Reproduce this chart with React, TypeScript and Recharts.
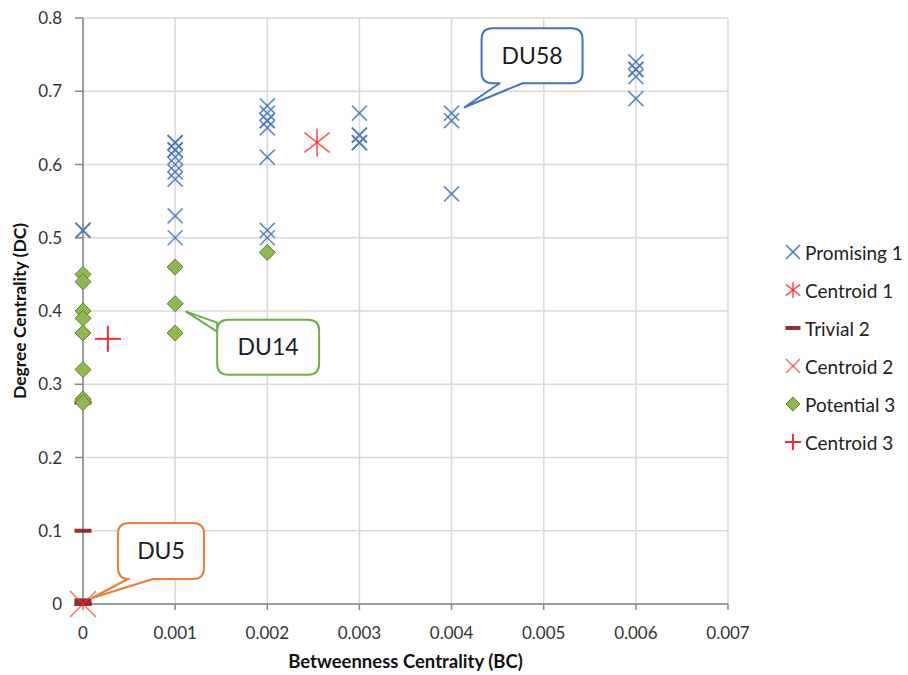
import React from "react";
import {
  ScatterChart,
  Scatter,
  XAxis,
  YAxis,
  CartesianGrid,
  ReferenceDot,
} from "recharts";

const xTicks = [0, 0.001, 0.002, 0.003, 0.004, 0.005, 0.006, 0.007];
const yTicks = [0, 0.1, 0.2, 0.3, 0.4, 0.5, 0.6, 0.7, 0.8];

// Promising 1: one column per BC value
const promisingBC = [0, 0.001, 0.002, 0.003, 0.004, 0.006];
const promisingDC = [
  [0.51, 0.51],
  [0.63, 0.63, 0.62, 0.62, 0.61, 0.6, 0.59, 0.58, 0.53, 0.5],
  [0.68, 0.67, 0.66, 0.66, 0.65, 0.61, 0.51, 0.5],
  [0.67, 0.64, 0.64, 0.63, 0.63],
  [0.67, 0.66, 0.56],
  [0.74, 0.73, 0.73, 0.72, 0.69],
];

const trivialBC = [0];
const trivialDC = [[0.1, 0.275, 0.005, 0, 0]];

const potentialBC = [0, 0.001, 0.002];
const potentialDC = [
  [0.45, 0.44, 0.4, 0.39, 0.37, 0.32, 0.28, 0.275],
  [0.46, 0.41, 0.37],
  [0.48],
];

const centroid1 = [{ x: 0.00254, y: 0.63 }];
const centroid2 = [{ x: 0, y: 0 }];
const centroid3 = [{ x: 0.00027, y: 0.362 }];

const flat = (bc: number[], dc: number[][]) =>
  bc.flatMap((x, i) => dc[i].map((y) => ({ x, y })));

const promising = flat(promisingBC, promisingDC);
const trivial = flat(trivialBC, trivialDC);
const potential = flat(potentialBC, potentialDC);

const FONT = "Lato, 'Open Sans', sans-serif";
const BLUE = "#4a7aba";
const RED = "#ff2a2a";

const XMark = ({ cx, cy, r, color, w, op = 1 }: any) => (
  <g stroke={color} strokeWidth={w} strokeOpacity={op}>
    <line x1={cx - r} y1={cy - r} x2={cx + r} y2={cy + r} />
    <line x1={cx - r} y1={cy + r} x2={cx + r} y2={cy - r} />
  </g>
);

const Star = ({ cx, cy, r }: any) => (
  <g stroke={RED} strokeWidth={1.6} strokeOpacity={0.8}>
    <line x1={cx} y1={cy - r} x2={cx} y2={cy + r} />
    <line x1={cx - r * 0.9} y1={cy - r * 0.7} x2={cx + r * 0.9} y2={cy + r * 0.7} />
    <line x1={cx - r * 0.9} y1={cy + r * 0.7} x2={cx + r * 0.9} y2={cy - r * 0.7} />
  </g>
);

const Plus = ({ cx, cy, r }: any) => (
  <g stroke={RED} strokeWidth={2}>
    <line x1={cx} y1={cy - r} x2={cx} y2={cy + r} />
    <line x1={cx - r} y1={cy} x2={cx + r} y2={cy} />
  </g>
);

const Dash = ({ cx, cy, w = 17 }: any) => (
  <rect x={cx - w / 2} y={cy - 2} width={w} height={4} fill="#8b3333" />
);

const Diamond = ({ cx, cy, r }: any) => (
  <path
    d={`M${cx},${cy - r} L${cx + r},${cy} L${cx},${cy + r} L${cx - r},${cy} Z`}
    fill="#8fb84f"
    stroke="#5f7f2f"
    strokeWidth={1}
  />
);

// rounded box with a pointer; tail on bottom edge or left edge
const Callout = ({ cx, cy, tip, box, tail, side, color, text }: any) => {
  const [bx, by, bw, bh] = [cx + box[0], cy + box[1], box[2], box[3]];
  const r = 11;
  const tx = cx + tip[0];
  const ty = cy + tip[1];
  let d = `M${bx + r},${by} H${bx + bw - r} Q${bx + bw},${by} ${bx + bw},${by + r} V${by + bh - r} Q${bx + bw},${by + bh} ${bx + bw - r},${by + bh}`;
  if (side === "bottom") d += ` L${cx + tail[1]},${by + bh} L${tx},${ty} L${cx + tail[0]},${by + bh}`;
  d += ` H${bx + r} Q${bx},${by + bh} ${bx},${by + bh - r}`;
  if (side === "left") d += ` L${bx},${cy + tail[1]} L${tx},${ty} L${bx},${cy + tail[0]}`;
  d += ` V${by + r} Q${bx},${by} ${bx + r},${by} Z`;
  return (
    <g>
      <path d={d} fill="#fff" stroke={color} strokeWidth={2} strokeLinejoin="round" />
      <text
        x={bx + bw / 2}
        y={by + bh / 2 + 8}
        textAnchor="middle"
        fontSize={23}
        fontFamily={FONT}
        fill="#1b1b2a"
      >
        {text}
      </text>
    </g>
  );
};

const legendItems = [
  { name: "Promising 1", icon: <XMark cx={9} cy={9} r={7} color={BLUE} w={1.5} /> },
  { name: "Centroid 1", icon: <Star cx={9} cy={9} r={8} /> },
  { name: "Trivial 2", icon: <Dash cx={9} cy={9} w={15} /> },
  { name: "Centroid 2", icon: <XMark cx={9} cy={9} r={7} color={RED} w={1.4} op={0.7} /> },
  { name: "Potential 3", icon: <Diamond cx={9} cy={9} r={7} /> },
  { name: "Centroid 3", icon: <Plus cx={9} cy={9} r={8} /> },
];

const tickStyle = { fill: "#333", fontSize: 17, fontFamily: FONT };

export default function App() {
  return (
    <div style={{ position: "absolute", left: 0, top: 0, width: 908, height: 675, background: "#fff", fontFamily: FONT }}>
      <ScatterChart width={908} height={675} margin={{ top: 18, right: 180, bottom: 0, left: 0 }}>
        <CartesianGrid stroke="#d9d9d9" strokeWidth={1.5} />
        <XAxis
          type="number"
          dataKey="x"
          domain={[0, 0.007]}
          ticks={xTicks}
          tickFormatter={(v: number) => String(v)}
          tickSize={6}
          tickMargin={17}
          height={71}
          stroke="#868686"
          strokeWidth={1.5}
          tick={tickStyle}
          label={{
            value: "Betweenness Centrality (BC)",
            position: "insideBottom",
            offset: 7,
            style: { fontWeight: 700, fontSize: 18.5, fill: "#111", fontFamily: FONT },
          }}
        />
        <YAxis
          type="number"
          dataKey="y"
          domain={[0, 0.8]}
          ticks={yTicks}
          tickFormatter={(v: number) => String(v)}
          tickSize={8}
          tickMargin={13}
          width={83}
          stroke="#868686"
          strokeWidth={1.5}
          tick={tickStyle}
          label={{
            value: "Degree Centrality (DC)",
            angle: -90,
            position: "insideLeft",
            offset: 20,
            style: { textAnchor: "middle", fontWeight: 700, fontSize: 17.5, fill: "#111", fontFamily: FONT },
          }}
        />
        <Scatter
          name="Promising 1"
          data={promising}
          isAnimationActive={false}
          shape={(p: any) => <XMark cx={p.cx} cy={p.cy} r={7.5} color={BLUE} w={1.7} op={0.85} />}
        />
        <Scatter
          name="Centroid 1"
          data={centroid1}
          isAnimationActive={false}
          shape={(p: any) => <Star cx={p.cx} cy={p.cy} r={14} />}
        />
        <Scatter
          name="Trivial 2"
          data={trivial}
          isAnimationActive={false}
          shape={(p: any) => <Dash cx={p.cx} cy={p.cy} />}
        />
        <Scatter
          name="Centroid 2"
          data={centroid2}
          isAnimationActive={false}
          shape={(p: any) => <XMark cx={p.cx} cy={p.cy} r={13} color={RED} w={1.5} op={0.7} />}
        />
        <Scatter
          name="Potential 3"
          data={potential}
          isAnimationActive={false}
          shape={(p: any) => <Diamond cx={p.cx} cy={p.cy} r={8} />}
        />
        <Scatter
          name="Centroid 3"
          data={centroid3}
          isAnimationActive={false}
          shape={(p: any) => <Plus cx={p.cx} cy={p.cy} r={13} />}
        />
        <ReferenceDot
          x={0.004}
          y={0.67}
          ifOverflow="visible"
          shape={(p: any) => (
            <Callout cx={p.cx} cy={p.cy} tip={[13, -6]} box={[30, -85, 101, 55]} tail={[48, 71]} side="bottom" color="#4472c4" text="DU58" />
          )}
        />
        <ReferenceDot
          x={0.001}
          y={0.41}
          ifOverflow="visible"
          shape={(p: any) => (
            <Callout cx={p.cx} cy={p.cy} tip={[11, 8]} box={[42, 16, 102, 55]} tail={[19, 28]} side="left" color="#70ad47" text="DU14" />
          )}
        />
        <ReferenceDot
          x={0}
          y={0}
          ifOverflow="visible"
          shape={(p: any) => (
            <Callout cx={p.cx} cy={p.cy} tip={[9, -6]} box={[35, -81, 86, 56]} tail={[45, 70]} side="bottom" color="#ed7d31" text="DU5" />
          )}
        />
      </ScatterChart>
      <div style={{ position: "absolute", left: 784, top: 233 }}>
        {legendItems.map((it) => (
          <div key={it.name} style={{ display: "flex", alignItems: "center", height: 38 }}>
            <svg width={18} height={18} style={{ marginRight: 3 }}>
              {it.icon}
            </svg>
            <span style={{ fontSize: 19, color: "#222", fontFamily: FONT }}>{it.name}</span>
          </div>
        ))}
      </div>
    </div>
  );
}
